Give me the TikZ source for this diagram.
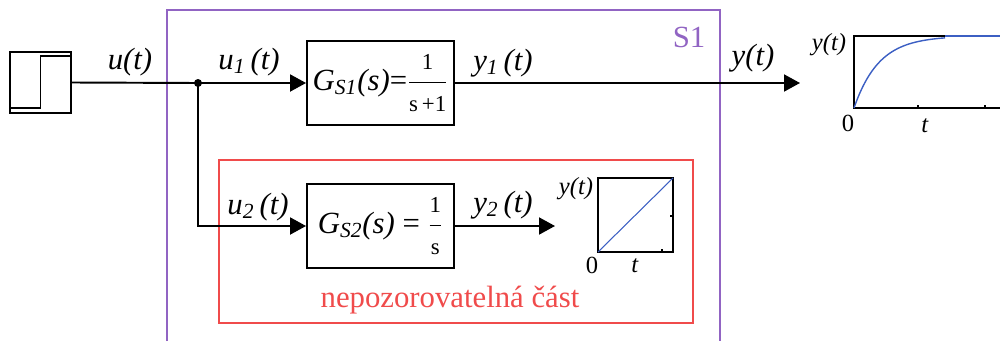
\documentclass[tikz,border=0pt]{standalone}
\usepackage{fontspec}
\setmainfont{Liberation Serif}
\usepackage{amsmath}
\usetikzlibrary{positioning, arrows.meta, calc}

\definecolor{sysviolet}{RGB}{145,100,195}
\definecolor{hidered}{RGB}{240,75,75}
\definecolor{curveblue}{RGB}{60,95,195}

\newcommand{\signame}[2]{\textit{#1}\textsubscript{\textit{#2}}\,\textit{(t)}}
\newcommand{\tffrac}[2]{$\dfrac{\text{\fontsize{13}{13}\selectfont #1}}{\text{\fontsize{13}{13}\selectfont #2}}$}

\begin{document}
\begin{tikzpicture}[x=0.2mm, y=-0.2mm, line width=1.1pt,
	lbl/.style={font=\fontsize{17.5}{20}\selectfont},
	axlbl/.style={font=\fontsize{14}{16}\selectfont},
	tfbox/.style={draw, minimum width=29.4mm, minimum height=16.8mm, inner sep=0pt, font=\fontsize{17.5}{20}\selectfont},
	sigarrow/.style={-{Triangle[length=3.2mm, width=3.4mm]}}]
	\useasboundingbox (0,0) rectangle (1000,341);
	% system borders
	\draw[sysviolet] (167,341) -- (167,10) -- (720,10) -- (720,341);
	\node[sysviolet, lbl] (sname) at (689,37) {S1};
	\draw[hidered] (219,160) rectangle (693,323);
	\node[hidered, lbl] (hname) at (450,300) {nepozorovatelná část};
	% step source
	\node[draw, minimum size=12.2mm, inner sep=0pt] (src) at (40.5,82.5) {};
	\draw ($(src.south west)+(1,-6)$) -| ($(src.north)+(0,5)$) -- ($(src.north east)+(0,5)$);
	% transfer blocks
	\node[tfbox] (g1) at (380.5,83) {\textit{G}\textsubscript{\textit{S1}}\textit{(s)}=\tffrac{1}{s\,+1}};
	\node[tfbox] (g2) at (380.5,226) {\textit{G}\textsubscript{\textit{S2}}\textit{(s)} = \tffrac{1}{s}};
	% signals
	\coordinate (split) at (198,83);
	\coordinate (yend) at (800,83);
	\coordinate (y2end) at (555,226);
	\draw (src.east) -- (split);
	\fill (split) circle (0.8mm);
	\draw[sigarrow] (split) -- (g1.west);
	\draw[sigarrow] (split) |- (g2.west);
	\draw[sigarrow] (g1.east) -- (yend);
	\draw[sigarrow] (g2.east) -- (y2end);
	\node[lbl] (lu) at (130,62) {\textit{u(t)}};
	\node[lbl] (lu1) at (249,62) {\signame{u}{1}};
	\node[lbl] (ly1) at (503,63) {\signame{y}{1}};
	\node[lbl] (ly) at (753,58) {\textit{y(t)}};
	\node[lbl] (lu2) at (258,207) {\signame{u}{2}};
	\node[lbl] (ly2) at (503,205) {\signame{y}{2}};
	% step response
	\draw[line width=0.9pt] (945,36) -- (854,36) -- (854,108) -- (1000,108);
	\draw[curveblue, line width=0.9pt] (945,36) -- (1000,36);
	\draw[curveblue, line width=0.8pt] plot[domain=854:945, samples=60] (\x, {108-72*(1-exp(-(\x-854)/25))});
	\foreach \tx in {918,985} \draw[line width=0.8pt] (\tx,108) -- (\tx,105);
	\node[axlbl] (p1y) at (829,45) {\textit{y(t)}};
	\node[axlbl] (p1z) at (848,123) {0};
	\node[axlbl] (p1t) at (925,126) {\textit{t}};
	% ramp response
	\draw[line width=0.9pt] (598,178) rectangle (673,252);
	\draw[curveblue, line width=0.6pt] (598,252) -- (673,178);
	\draw[line width=0.8pt] (662,252) -- (662,249);
	\draw[line width=0.8pt] (673,216) -- (670,216);
	\node[axlbl] (p2y) at (576,189) {\textit{y(t)}};
	\node[axlbl] (p2z) at (592,265) {0};
	\node[axlbl] (p2t) at (635,266) {\textit{t}};
\end{tikzpicture}
\end{document}
